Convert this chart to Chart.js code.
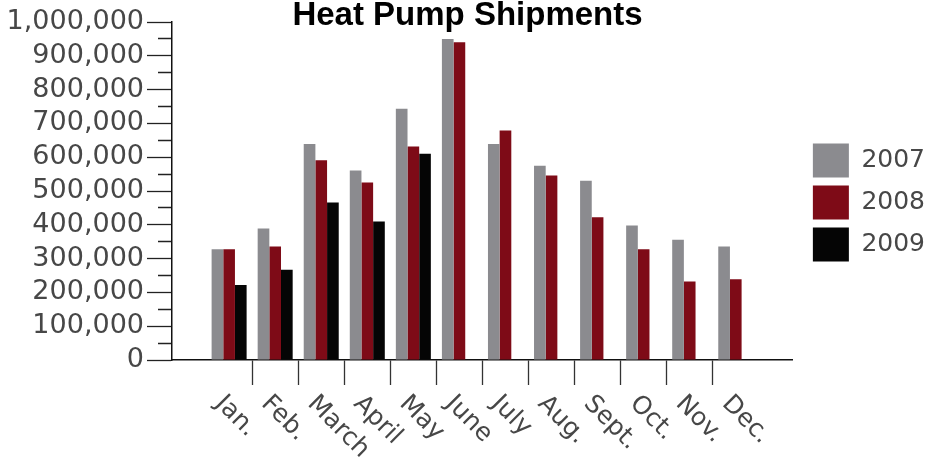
<!DOCTYPE html>
<html>
<head>
<meta charset="utf-8">
<title>Heat Pump Shipments</title>
<script src="https://cdn.jsdelivr.net/npm/chart.js@4.4.1/dist/chart.umd.min.js"></script>
<style>
  html, body { margin: 0; padding: 0; background: #fff; }
  #wrap { width: 935px; height: 463px; }
</style>
</head>
<body>
<div id="wrap"><canvas id="chart" width="935" height="463"></canvas></div>
<script>
const months = ['Jan.', 'Feb.', 'March', 'April', 'May', 'June', 'July', 'Aug.', 'Sept.', 'Oct.', 'Nov.', 'Dec.'];
const years = ['2007', '2008', '2009'];
const shipments2007 = [328000, 389000, 639000, 561000, 743000, 950000, 639000, 575000, 530000, 398000, 356000, 336000];
const shipments2008 = [328000, 336000, 591000, 525000, 632000, 940000, 679000, 546000, 422000, 328000, 232000, 239000];
const shipments2009 = [222000, 267000, 466000, 410000, 610000, null, null, null, null, null, null, null];

const yMax = 1000000;
const yTickStep = 50000;   // minor ticks
const yLabelStep = 100000; // labelled ticks

const yearColors = ['#8b8b8f', '#7e0b17', '#050505'];
const FONT = '"DejaVu Sans", Verdana, sans-serif';
const TEXT = '#474747';

// month names are drawn rotated clockwise, which Chart.js can't do itself
const monthLabelsPlugin = {
  id: 'monthLabels',
  afterDraw(chart) {
    const xs = chart.scales.x;
    const ctx = chart.ctx;
    ctx.save();
    ctx.font = '25px ' + FONT;
    ctx.fillStyle = TEXT;
    ctx.textAlign = 'left';
    ctx.textBaseline = 'middle';
    months.forEach((m, i) => {
      ctx.save();
      ctx.translate(xs.getPixelForValue(i) - 10, xs.top + 40);
      ctx.rotate(Math.PI / 4);
      ctx.fillText(m, 0, 0);
      ctx.restore();
    });
    ctx.restore();
  }
};

new Chart(document.getElementById('chart'), {
  type: 'bar',
  data: {
    labels: months.map((m, i) => i),
    datasets: [
      { label: years[0], data: shipments2007, backgroundColor: yearColors[0] },
      { label: years[1], data: shipments2008, backgroundColor: yearColors[1] },
      { label: years[2], data: shipments2009, backgroundColor: yearColors[2] }
    ]
  },
  options: {
    responsive: false,
    animation: false,
    events: [],
    devicePixelRatio: 1,
    datasets: { bar: { categoryPercentage: 0.76, barPercentage: 1, borderWidth: 0 } },
    scales: {
      x: {
        type: 'linear',
        offset: false,
        min: -1.24,
        max: 12.24,
        afterBuildTicks: (scale) => {
          // tick marks sit between the months
          scale.ticks = months.slice(1).map((m, i) => ({ value: i + 0.5 }));
        },
        afterFit: (scale) => { scale.height = 103; },
        ticks: { display: false },
        grid: { offset: false, drawOnChartArea: false, drawTicks: true, tickLength: 25, tickColor: '#333', tickWidth: 1.3 },
        border: { display: true, color: '#111', width: 1.5 }
      },
      y: {
        min: 0,
        max: yMax,
        afterBuildTicks: (scale) => {
          const ticks = [];
          for (let v = 0; v <= yMax; v += yTickStep) ticks.push({ value: v });
          scale.ticks = ticks;
        },
        afterFit: (scale) => { scale.width = 172; },
        ticks: {
          autoSkip: false,
          padding: 3,
          color: TEXT,
          font: { family: FONT, size: 27 },
          callback: (v) => (v % yLabelStep === 0 ? v.toLocaleString('en-US') : '')
        },
        grid: {
          drawOnChartArea: false,
          tickLength: 25,
          tickColor: '#222',
          tickWidth: 1.3,
          // minor ticks are half length, against the axis (line is drawn from the outer end)
          tickBorderDash: (c) => (c.tick && c.tick.value % yLabelStep ? [0, 11, 14, 50] : [])
        },
        border: { color: '#111', width: 1.5 }
      },
      gap: {
        axis: 'y',
        position: 'right',
        display: true,
        ticks: { display: false },
        grid: { display: false },
        border: { display: false },
        afterFit: (scale) => { scale.width = 12; }
      }
    },
    plugins: {
      title: {
        display: true,
        text: 'Heat Pump Shipments',
        color: '#000',
        font: { family: '"Liberation Sans", Arial, sans-serif', size: 33, weight: 'bold', lineHeight: 1 },
        padding: { top: -1, bottom: -10 }
      },
      legend: {
        position: 'right',
        fullSize: false,
        align: 'center',
        title: { display: true, text: '', font: { size: 23, lineHeight: 1 }, padding: 0 },
        labels: {
          boxWidth: 36,
          boxHeight: 34,
          padding: 8,
          color: TEXT,
          font: { family: FONT, size: 25 }
        }
      },
      tooltip: { enabled: false }
    }
  },
  plugins: [monthLabelsPlugin]
});
</script>
</body>
</html>
